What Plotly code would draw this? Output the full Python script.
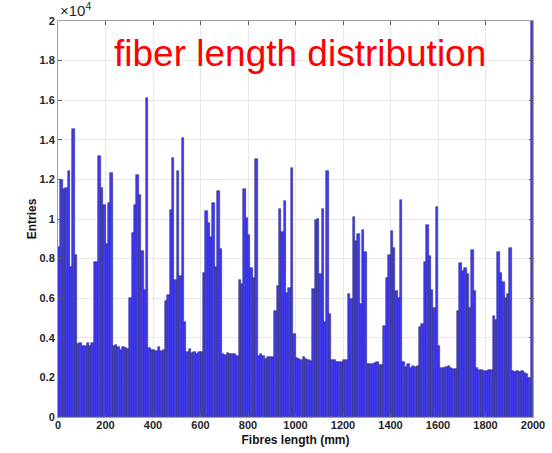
import numpy as np
import plotly.graph_objects as go

# ---- data -------------------------------------------------------------
bin_width = 10  # mm
bin_left = list(range(0, 2000, bin_width))  # left edges of the 200 bins

# entries per bin (in thousands)
entries_k = [
    8.6, 11.95, 11.5, 11.55, 12.4, 7.6, 14.55, 8.2,            # 0-70
    3.67, 3.73, 3.6, 3.6, 3.73, 3.6, 3.73,                      # 80-140
    7.83, 7.83, 13.2, 11.55, 10.7, 8.75, 10.8, 12.3,            # 150-220
    3.57, 3.63, 3.55, 3.4, 3.55, 3.5, 3.45,                     # 230-290
    6.0, 9.3, 10.7, 12.2, 11.2, 8.4, 6.4, 16.1,                 # 300-370
    3.5, 3.4, 3.4, 3.35, 3.55, 3.35, 3.4,                       # 380-440
    5.87, 6.17, 10.45, 13.07, 6.9, 12.4, 7.1, 14.1, 4.8,        # 450-530
    3.27, 3.43, 3.23, 3.3, 3.2, 3.3, 3.27,                      # 540-600
    7.27, 10.4, 9.8, 9.07, 10.8, 7.57, 11.4, 8.5,               # 610-680
    3.2, 3.15, 3.23, 3.17, 3.18, 3.18, 3.1,                     # 690-750
    6.93, 6.7, 11.5, 10.07, 9.2, 7.53, 7.0, 13.03,              # 760-830
    3.08, 3.17, 3.07, 2.95, 3.03, 3.02, 3.02,                   # 840-900
    5.33, 6.6, 10.53, 9.33, 10.93, 6.28, 6.53, 12.6, 4.2,       # 910-990
    2.98, 2.92, 2.87, 3.03, 2.92, 2.87, 2.83,                   # 1000-1060
    6.48, 9.95, 10.0, 7.2, 10.53, 4.78, 12.4, 5.2,              # 1070-1140
    2.9, 2.87, 2.77, 2.8, 2.8, 2.87, 2.9,                       # 1150-1210
    6.2, 5.97, 10.1, 8.87, 9.23, 5.7, 9.43, 8.33,               # 1220-1290
    2.7, 2.67, 2.7, 2.73, 2.77, 2.63, 2.63,                     # 1300-1360
    4.6, 7.0, 8.17, 9.37, 8.53, 6.37, 6.03, 10.98,              # 1370-1440
    2.77, 2.53, 2.67, 2.5, 2.57, 2.55, 2.6,                     # 1450-1510
    4.53, 4.7, 7.83, 9.7, 8.13, 6.43, 5.5, 10.63, 3.6,          # 1520-1600
    2.47, 2.48, 2.53, 2.57, 2.47, 2.43, 2.43,                   # 1610-1670
    5.37, 7.8, 7.37, 7.53, 7.23, 5.53, 8.43, 6.37,              # 1680-1750
    2.48, 2.35, 2.38, 2.32, 2.32, 2.35, 2.35,                   # 1760-1820
    5.12, 4.92, 8.33, 7.28, 6.82, 6.03, 6.23, 8.53,             # 1830-1900
    2.34, 2.29, 2.32, 2.27, 2.34, 2.22, 2.19, 1.95,             # 1910-1980
    20.5,                                                       # 1990 (overflow)
]
entries = [round(v * 1000) for v in entries_k]

x_ticks = list(range(0, 2001, 200))
y_ticks = list(range(0, 20001, 2000))
y_ticktext = ["0", "0.2", "0.4", "0.6", "0.8", "1", "1.2", "1.4", "1.6", "1.8", "2"]

title_text = "fiber length distribution"
x_label = "Fibres length (mm)"
y_label = "Entries"

# ---- figure -----------------------------------------------------------
centers = [b + bin_width / 2 for b in bin_left]

fig = go.Figure(
    go.Bar(
        x=centers,
        y=entries,
        width=bin_width,
        marker=dict(
            color="rgb(66,58,242)",
            line=dict(color="rgba(35,35,110,0.85)", width=0.6),
        ),
        hoverinfo="x+y",
    )
)

FONT = "Liberation Sans, Arial, sans-serif"
axis_font = dict(family=FONT, size=11, color="rgb(38,38,38)", weight="bold")
label_font = dict(family=FONT, size=12, color="rgb(20,20,20)", weight="bold")

fig.update_layout(
    width=552,
    height=453,
    margin=dict(l=58, r=19, t=21, b=36),
    paper_bgcolor="white",
    plot_bgcolor="white",
    bargap=0,
    showlegend=False,
    font=dict(family=FONT),
)

common = dict(
    tickfont=axis_font,
    showgrid=True,
    gridcolor="rgb(232,232,232)",
    gridwidth=1,
    showline=True,
    linecolor="rgb(160,160,160)",
    linewidth=1,
    mirror="ticks",
    ticks="inside",
    ticklen=4,
    tickcolor="rgb(90,90,90)",
    zeroline=False,
    automargin=False,
)

fig.update_xaxes(
    range=[0, 2000],
    tickvals=x_ticks,
    ticktext=[str(t) for t in x_ticks],
    ticklabelstandoff=-2,
    title=dict(text=x_label, font=label_font, standoff=5),
    **common,
)

fig.update_yaxes(
    range=[0, 20000],
    tickvals=y_ticks,
    ticktext=y_ticktext,
    title=dict(text=y_label, font=label_font, standoff=0),
    **common,
)

fig.add_annotation(
    text="×10<sup>4</sup>", xref="paper", yref="paper", x=0.0, y=1.0,
    xanchor="left", yanchor="bottom", showarrow=False,
    font=dict(family=FONT, size=15, color="rgb(38,38,38)"),
)

fig.add_annotation(
    text=title_text, xref="paper", yref="paper", x=0.51, y=0.918,
    xanchor="center", yanchor="middle", showarrow=False,
    font=dict(family=FONT, size=37, color="rgb(255,0,0)"),
)

fig.write_html("out.html")
